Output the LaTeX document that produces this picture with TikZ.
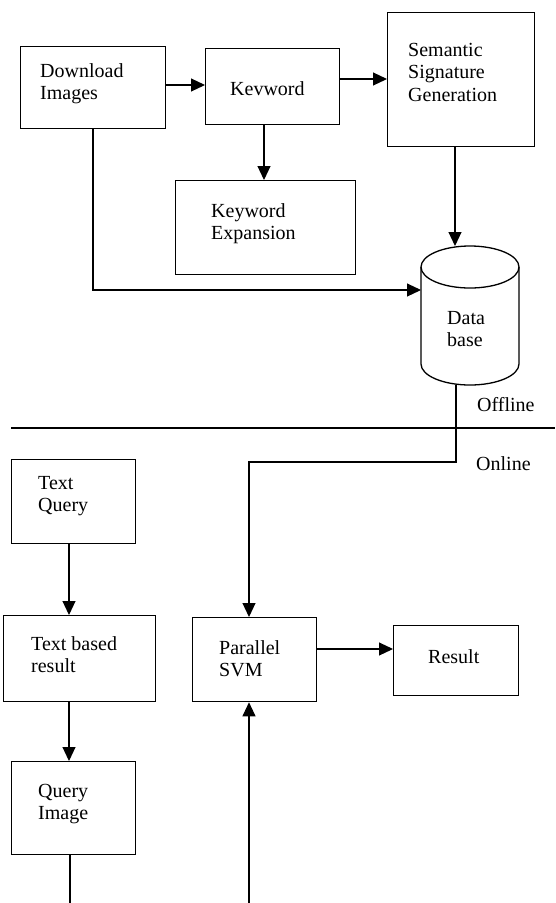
\documentclass[tikz,border=0pt]{standalone}
\usepackage{fontspec}
\setmainfont{Liberation Serif}
\usetikzlibrary{arrows.meta}
\newcommand\boxtext[1]{\begin{tabular}[t]{@{}l@{}}#1\end{tabular}}
\begin{document}
\begin{tikzpicture}[x=1pt,y=-1pt,
  box/.style={draw, line width=1.3pt, inner sep=0pt, anchor=north west},
  txt/.style={inner sep=0pt, anchor=base west, font=\fontsize{20}{22.5}\selectfont},
  conn/.style={line width=1.1pt},
  arr/.style={conn, -{Triangle[length=14pt,width=13pt]}}]
\fill[white] (0,0) rectangle (555,903);
\useasboundingbox (0,0) rectangle (555,903);

% boxes
\node[box, minimum width=145pt, minimum height=82pt] (dl) at (20,46) {};
\node[box, minimum width=134pt, minimum height=76pt] (kw) at (205,48) {};
\node[box, minimum width=147pt, minimum height=134pt] (sem) at (387,12) {};
\node[box, minimum width=180pt, minimum height=94pt] (exp) at (175,180) {};
\node[box, minimum width=124pt, minimum height=84pt] (tq) at (11,459) {};
\node[box, minimum width=152pt, minimum height=86pt] (tbr) at (3,615) {};
\node[box, minimum width=124pt, minimum height=93pt] (qi) at (11,761) {};
\node[box, minimum width=124pt, minimum height=84pt] (svm) at (192,617) {};
\node[box, minimum width=125pt, minimum height=70pt] (res) at (393,625) {};

% database cylinder
\node[inner sep=0pt, minimum width=98pt, minimum height=139pt, anchor=north west] (db) at (421,246) {};
\draw[line width=1.3pt] (421,267) -- (421,364) arc[start angle=180, end angle=0, x radius=49, y radius=21] -- (519,267);
\draw[line width=1.3pt] (470,267) ellipse [x radius=49, y radius=21];

% texts
\node[txt] (tdl) at (40,77) {\boxtext{Download\\Images}};
\node[txt] (tkw) at (230,95) {Kevword};
\node[txt] (tsem) at (408,56) {\boxtext{Semantic\\Signature\\Generation}};
\node[txt] (texp) at (211,217) {\boxtext{Keyword\\Expansion}};
\node[txt] (tdb) at (447,324) {\boxtext{Data\\base}};
\node[txt] (toff) at (477,411) {Offline};
\node[txt] (ton) at (476,470) {Online};
\node[txt] (ttq) at (38,489) {\boxtext{Text\\Query}};
\node[txt] (ttbr) at (31,650) {\boxtext{Text based\\result}};
\node[txt] (tsvm) at (219,654) {\boxtext{Parallel\\SVM}};
\node[txt] (tres) at (428,663) {Result};
\node[txt] (tqi) at (38,797) {\boxtext{Query\\Image}};

% separator
\coordinate (sepl) at (11,428);
\coordinate (sepr) at (555,428);
\draw[conn] (sepl) -- (sepr);

% connectors
\draw[arr] (dl.east |- 0,85) -- (kw.west |- 0,85);
\draw[arr] (kw.east |- 0,79) -- (sem.west |- 0,79);
\draw[arr] (kw.south -| 264,0) -- (exp.north -| 264,0);
\draw[arr] (sem.south -| 455,0) -- (db.north -| 455,0);
\draw[arr] (dl.south -| 93,0) |- (db.west |- 0,290);
\draw[arr] (db.south -| 456,0) |- (249,462) -- (svm.north -| 249,0);
\draw[arr] (tq.south -| 69,0) -- (tbr.north -| 69,0);
\draw[arr] (tbr.south -| 69,0) -- (qi.north -| 69,0);
\coordinate (qiend) at (70,903);
\draw[conn] (qi.south -| qiend) -- (qiend);
\coordinate (svmin) at (249,903);
\draw[arr] (svmin) -- (svm.south -| svmin);
\draw[arr] (svm.east |- 0,649) -- (res.west |- 0,649);
\end{tikzpicture}
\end{document}
